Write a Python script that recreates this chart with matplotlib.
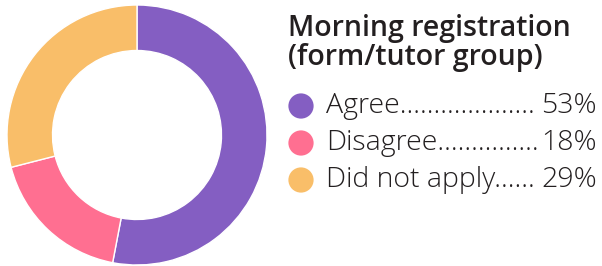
import matplotlib.pyplot as plt

# Daten
labels = ['Agree', 'Disagree', 'Did not apply']
values = [53, 18, 29]
colors = ['#845ec2', '#ff6f91', '#f9be69']
title = 'Morning registration\n(form/tutor group)'

plt.rcParams['font.family'] = ['Open Sans', 'DejaVu Sans']

fig = plt.figure(figsize=(6.02, 2.66), dpi=100)

# Donut
ax = fig.add_axes([7 / 602, 1 / 266, 260 / 602, 260 / 266])
ax.pie(values, colors=colors, startangle=90, counterclock=False, radius=1,
       wedgeprops=dict(width=0.35, edgecolor='white', linewidth=1))
ax.set_xlim(-1, 1)
ax.set_ylim(-1, 1)
ax.set_aspect('equal')

# Legende
W, H = 602, 266
fig.text(288 / W, 1 - 14 / H, title, ha='left', va='top', fontsize=20.5,
         fontweight='semibold', color='#231f20', linespacing=1.02)

lax = fig.add_axes([0, 0, 1, 1], facecolor='none')
lax.set_xlim(0, W)
lax.set_ylim(H, 0)
lax.axis('off')

renderer = fig.canvas.get_renderer()
x_text, x_right = 326, 597
row_y = [106, 143, 180]
fs = 20.5
for lab, val, col, y in zip(labels, values, colors, row_y):
    lax.scatter([301], [y], s=330, color=col, edgecolor='none')
    t1 = lax.text(x_text, y, lab, ha='left', va='center', fontsize=fs,
                  fontweight='light', color='#231f20')
    t2 = lax.text(x_right, y, f'{val}%', ha='right', va='center', fontsize=fs,
                  fontweight='light', color='#231f20')
    w1 = t1.get_window_extent(renderer).x1
    w2 = t2.get_window_extent(renderer).x0
    dot = lax.text(0, 0, '.', fontsize=fs, fontweight='light')
    dw = dot.get_window_extent(renderer).width
    dot.remove()
    n = max(int((w2 - w1) / dw), 0)
    t1.set_text(lab + '.' * n)

fig.savefig('out.png', dpi=100)
